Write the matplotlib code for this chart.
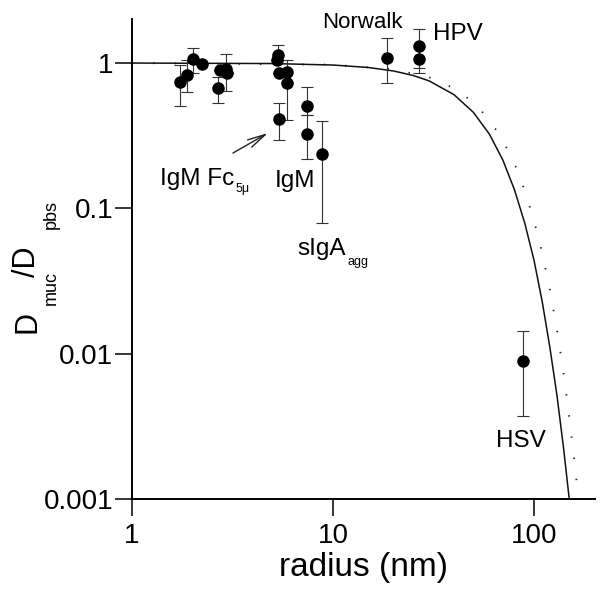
import numpy as np
import matplotlib
matplotlib.use("Agg")
import matplotlib.pyplot as plt

plt.rcParams['font.family'] = ['Liberation Sans', 'DejaVu Sans']

W, H = 602, 598

# measured particles: radius (nm), D_muc/D_pbs, lower / upper error bar ends
radius = [1.73, 1.87, 2.02, 2.22, 2.67, 2.74, 2.94, 2.98,
          5.34, 5.28, 5.41, 5.89, 5.89, 5.41, 7.4, 7.4, 8.85,
          18.6, 26.8, 26.8, 87.9]
ratio = [0.74, 0.83, 1.06, 0.98, 0.675, 0.895, 0.905, 0.85,
         1.135, 1.05, 0.857, 0.87, 0.724, 0.41, 0.505, 0.327, 0.238,
         1.09, 1.30, 1.06, 0.00895]
err_lo = [0.51, 0.63, 0.85, 0.98, 0.527, 0.895, 0.644, 0.85,
          1.135, 1.05, 0.857, 0.405, 0.724, 0.295, 0.44, 0.22, 0.079,
          0.724, 0.92, 0.85, 0.00374]
err_hi = [0.968, 1.05, 1.26, 0.98, 0.80, 0.895, 1.15, 0.85,
          1.33, 1.05, 0.857, 1.05, 0.724, 0.533, 0.68, 0.44, 0.40,
          1.48, 1.71, 1.06, 0.01425]

# model curves
curve_r = [1, 5, 10, 15, 20, 25, 30, 40, 50, 60, 70, 80, 90, 100,
           110, 120, 130, 140, 150, 155]
curve_solid = [1.0, 0.992, 0.969, 0.932, 0.882, 0.822, 0.755, 0.606, 0.457,
               0.324, 0.215, 0.134, 0.079, 0.044, 0.0226, 0.011, 0.0052,
               0.0023, 0.00098, 0.00066]
dot_r = [1, 10, 20, 30, 40, 50, 60, 70, 80, 90, 100, 110, 120, 130,
         140, 150, 160, 170]
curve_dotted = [1.0, 0.975, 0.905, 0.799, 0.671, 0.536, 0.407, 0.294, 0.203,
                0.132, 0.0825, 0.0489, 0.0275, 0.0147, 0.0075, 0.0036,
                0.00168, 0.00074]

fig = plt.figure(figsize=(W / 100, H / 100), dpi=100)
ax = fig.add_axes([132 / W, 1 - 499 / H, 462.5 / W, 479.7 / H])

ax.plot(curve_r, curve_solid, color='#111111', lw=1.1, zorder=2)
ax.plot(dot_r, curve_dotted, color='#222222', lw=1.3,
        linestyle=(0, (0.8, 11)), zorder=1)

r = np.array(radius)
y = np.array(ratio)
yerr = [y - np.array(err_lo), np.array(err_hi) - y]
ax.errorbar(r, y, yerr=yerr, fmt='o', color='black', ms=8,
            ecolor='#333333', elinewidth=0.8, capsize=4, capthick=0.8,
            zorder=3)

ax.set_xscale('log')
ax.set_yscale('log')
ax.set_xlim(1, 200)
ax.set_ylim(0.001, 2)
ax.set_xticks([1, 10, 100])
ax.set_xticklabels(['1', '10', '100'])
ax.set_yticks([0.001, 0.01, 0.1, 1])
ax.set_yticklabels(['0.001', '0.01', '0.1', '1'])
ax.minorticks_off()
for s in ['top', 'right']:
    ax.spines[s].set_visible(False)
for s in ['left', 'bottom']:
    ax.spines[s].set_linewidth(1.4)
ax.tick_params(axis='both', direction='out', length=12.5, width=1.1,
               labelsize=20)
ax.tick_params(axis='x', pad=5)
ax.tick_params(axis='y', pad=1)

ax.set_xlabel('radius (nm)', fontsize=24, labelpad=2)


def ftext(x, yy, s, **kw):
    fig.text(x / W, 1 - yy / H, s, **kw)


# y label built from pieces so the subscripts sit below the baseline
rot = dict(rotation=90, rotation_mode='anchor', ha='left', va='baseline')
ftext(35, 333, 'D', fontsize=22, **rot)
ftext(56, 305, 'muc', fontsize=13, **rot)
ftext(35, 277, '/D', fontsize=22, **rot)
ftext(56, 229, 'pbs', fontsize=13, **rot)

# annotations
lab = dict(ha='left', va='baseline')
ftext(403, 28, 'Norwalk', fontsize=16, ha='right', va='baseline')
ftext(433, 40, 'HPV', fontsize=17.5, **lab)
ftext(160, 185, 'IgM Fc', fontsize=17.5, **lab)
ftext(236, 192, '5μ', fontsize=9, **lab)
ftext(275, 187, 'IgM', fontsize=17.5, **lab)
ftext(297, 255, 'sIgA', fontsize=17.5, **lab)
ftext(348, 265, 'agg', fontsize=9, **lab)
ftext(496, 447, 'HSV', fontsize=17.5, **lab)

ax.annotate('', xy=(268 / W, 1 - 133 / H), xytext=(233 / W, 1 - 153 / H),
            xycoords='figure fraction', textcoords='figure fraction',
            arrowprops=dict(arrowstyle='->,head_length=1.3,head_width=0.3',
                            lw=1.0, color='#222222', shrinkA=0, shrinkB=0))

fig.savefig('out.png', dpi=100)
